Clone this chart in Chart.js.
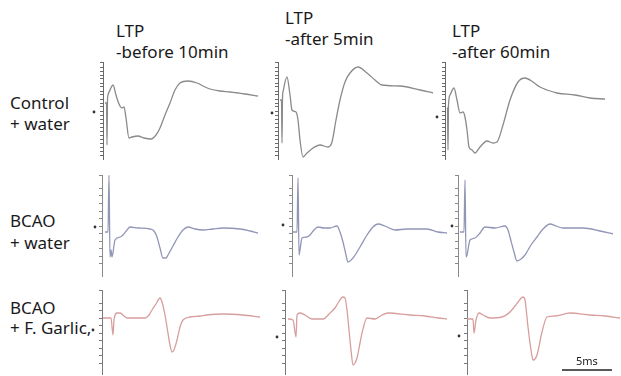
<!DOCTYPE html>
<html>
<head>
<meta charset="utf-8">
<script src="https://cdn.jsdelivr.net/npm/chart.js@4/dist/chart.umd.min.js"></script>
<style>
  html, body { margin: 0; padding: 0; background: #ffffff; }
  body { width: 621px; height: 376px; position: relative; overflow: hidden; font-family: "Noto Sans", "Open Sans", sans-serif; color: #1a1a1a; }
  .lbl { position: absolute; font-size: 17px; line-height: 21px; white-space: nowrap; }
  .sb { position: absolute; font-size: 11px; line-height: 13px; white-space: nowrap; }
  canvas { position: absolute; }
</style>
</head>
<body>
<script>
// ---------- DATA (time in ms, amplitude in mV) ----------
const columnTitles = ["-before 10min", "-after 5min", "-after 60min"];
const rowTitles = [["Control", "+ water"], ["BCAO", "+ water"], ["BCAO", "+ F. Garlic,"]];

// Control + water
const ctrlBeforeT = [0.2,0.35,0.4,0.45,0.5,0.7,1.0,1.3,1.6,1.9,2.1,2.3,2.6,2.9,3.5,4.1,4.8,5.3,5.7,6.2,6.7,7.2,7.7,8.5,9.4,10.2,10.7,11.7,12.7,14.2,15.5];
const ctrlBeforeV = [0.16,0.16,-0.68,0.22,0.32,0.42,0.52,0.32,0.14,0.06,0.08,-0.14,-0.54,-0.52,-0.50,-0.54,-0.56,-0.48,-0.34,-0.08,0.16,0.42,0.56,0.60,0.56,0.48,0.44,0.40,0.38,0.34,0.30];
const ctrlAfter5T = [0.2,0.35,0.4,0.45,0.5,0.9,1.2,1.4,1.8,2.0,2.2,2.5,2.9,3.5,4.2,5.0,5.4,5.8,6.2,6.7,7.2,8.0,8.9,9.7,10.4,12.2,14.2,15.5];
const ctrlAfter5V = [0.22,0.22,-0.64,0.26,0.38,0.68,0.32,0.02,-0.02,-0.18,-0.58,-0.92,-0.84,-0.74,-0.68,-0.72,-0.62,-0.18,0.22,0.58,0.76,0.88,0.76,0.62,0.52,0.50,0.42,0.36];
const ctrlAfter60T = [0.2,0.25,0.3,0.35,0.5,0.9,1.2,1.5,1.8,2.0,2.2,2.4,2.7,3.0,3.5,4.2,4.8,5.2,5.8,6.5,7.3,8.0,8.8,9.5,10.2,11.2,13.0,14.5,16.0];
const ctrlAfter60V = [0.06,0.06,-0.78,0.12,0.32,0.46,0.22,-0.04,-0.02,-0.12,-0.38,-0.72,-0.78,-0.84,-0.72,-0.60,-0.64,-0.62,-0.28,0.22,0.58,0.66,0.58,0.48,0.42,0.36,0.32,0.26,0.24];

// BCAO + water
const bcaoBeforeT = [0.3,0.6,0.7,0.8,0.9,1.0,1.3,1.8,2.1,2.5,2.8,3.6,4.8,5.2,5.5,5.8,6.1,6.4,6.6,7.1,7.6,8.1,8.6,9.3,10.1,11.1,12.1,13.8,14.8,15.6];
const bcaoBeforeV = [-0.12,-0.12,1.02,-0.62,-0.48,-0.62,-0.28,-0.22,-0.18,-0.08,-0.02,-0.04,-0.06,-0.10,-0.22,-0.44,-0.64,-0.64,-0.58,-0.40,-0.22,-0.08,-0.02,-0.06,-0.08,-0.06,-0.04,-0.06,-0.10,-0.14];
const bcaoAfter5T = [0.1,0.5,0.6,0.7,0.8,1.0,1.5,1.8,2.2,2.6,3.2,3.8,4.5,4.8,5.1,5.4,5.6,6.1,6.8,7.5,8.1,8.6,9.3,10.3,11.5,13.5,14.6,15.5];
const bcaoAfter5V = [-0.12,-0.12,0.96,-0.58,-0.48,-0.24,-0.22,-0.18,-0.08,-0.02,-0.04,-0.04,0.0,-0.12,-0.32,-0.58,-0.72,-0.64,-0.42,-0.18,-0.02,0.04,0.0,-0.08,-0.06,-0.06,-0.12,-0.14];
const bcaoAfter60T = [0.2,0.6,0.7,0.8,0.9,1.2,1.7,2.2,2.7,3.7,4.7,5.0,5.2,5.6,5.9,6.3,6.7,7.3,7.9,8.5,9.2,9.8,10.5,12.5,14.2,15.5];
const bcaoAfter60V = [-0.12,-0.12,0.92,-0.62,-0.58,-0.28,-0.24,-0.14,-0.02,-0.04,0.0,-0.08,-0.22,-0.52,-0.70,-0.66,-0.58,-0.38,-0.22,-0.06,0.04,0.0,-0.04,-0.04,-0.10,-0.16];

// BCAO + F. Garlic
const garlicBeforeT = [0.1,0.9,1.1,1.2,1.5,1.8,2.2,2.5,3.3,4.3,4.7,5.0,5.4,5.8,6.0,6.3,6.5,6.8,7.0,7.2,7.5,7.8,8.1,8.8,9.8,10.5,12.1,14.1,15.8];
const garlicBeforeV = [0,0,-0.34,-0.04,0.10,0.10,0.04,0,0,0,0.06,0.16,0.28,0.40,0.32,0.06,-0.18,-0.54,-0.68,-0.64,-0.44,-0.18,-0.04,0.02,0.04,0.06,0.08,0.06,0.02];
const garlicAfter5T = [0.3,0.8,1.1,1.2,1.5,2.0,2.7,3.8,4.5,5.0,5.3,5.8,6.0,6.2,6.4,6.6,6.8,7.0,7.2,7.5,7.7,8.2,9.0,9.7,10.3,12.5,14.0,15.3,16.2];
const garlicAfter5V = [-0.02,-0.04,-0.38,0.06,0.10,0.06,-0.02,-0.02,0.10,0.20,0.30,0.42,0.40,0.16,-0.24,-0.64,-0.94,-0.90,-0.80,-0.50,-0.30,0,-0.02,0.06,0.10,0.06,0.04,0,-0.02];
const garlicAfter60T = [0.0,0.6,0.7,0.9,1.2,1.6,2.3,3.5,4.3,4.8,5.1,5.6,5.8,6.1,6.4,6.6,6.8,7.0,7.5,8.0,8.8,10.3,12.3,13.8,15.3];
const garlicAfter60V = [-0.02,-0.02,-0.30,-0.04,0.10,0.06,0,0.02,0.12,0.24,0.32,0.42,0.36,-0.18,-0.64,-0.84,-0.82,-0.74,-0.28,0.02,0.04,0.10,0.06,0.04,0];

// baseline reference markers left of each axis [time, amplitude], row by row
const markerT = [[-0.9, -0.6, -0.8], [-0.7, -0.9, -0.6], [-0.9, -0.8, -0.8]];
const markerV = [[-0.02, -0.04, -0.12], [-0.02, 0.02, 0.0], [-0.24, -0.38, -0.36]];

// 5 ms scale bar
const scaleBarT = [9.5, 14.5];
const scaleBarV = [-1.04, -1.04];
const scaleBarLabel = "5ms";

// ---------- LAYOUT ----------
const PX_PER_MS = 10, PX_PER_MV = 50, TICK = 3, X_SPAN_MS = 17, PAD_L = 12;
const rows = [
  { top: 62, zero: 111, bottom: 160, color: '#8a8a8a', axis: '#6a6a6a', step: 0.08, panels: [
      { ax: 103, t: ctrlBeforeT, v: ctrlBeforeV },
      { ax: 278, t: ctrlAfter5T, v: ctrlAfter5V },
      { ax: 445, t: ctrlAfter60T, v: ctrlAfter60V } ] },
  { top: 175, zero: 226, bottom: 277, color: '#9195b6', axis: '#8a8a8a', step: 0.15, panels: [
      { ax: 102, t: bcaoBeforeT, v: bcaoBeforeV },
      { ax: 292, t: bcaoAfter5T, v: bcaoAfter5V },
      { ax: 458, t: bcaoAfter60T, v: bcaoAfter60V } ] },
  { top: 290, zero: 318, bottom: 375, color: '#d89e9e', axis: '#7a7a7a', step: 0.15, panels: [
      { ax: 102, t: garlicBeforeT, v: garlicBeforeV },
      { ax: 285, t: garlicAfter5T, v: garlicAfter5V },
      { ax: 467, t: garlicAfter60T, v: garlicAfter60V, bar: true } ] }
];

function addText(txt, left, top, cls) {
  const d = document.createElement('div');
  d.className = cls; d.textContent = txt;
  d.style.left = left + 'px'; d.style.top = top + 'px';
  document.body.appendChild(d);
  return d;
}

// marker plugin: draws the small baseline dot through the chart's scales
const markerPlugin = {
  id: 'baselineMarker',
  afterDatasetsDraw(chart, args, opts) {
    const xs = chart.scales.x, ys = chart.scales.y, ctx = chart.ctx;
    ctx.save();
    ctx.fillStyle = '#333333';
    ctx.beginPath();
    ctx.arc(xs.getPixelForValue(opts.t), ys.getPixelForValue(opts.v), 1.4, 0, Math.PI * 2);
    ctx.fill();
    ctx.restore();
  }
};

// column titles
const titlePos = [{x: 116, y: 20}, {x: 285, y: 7}, {x: 452, y: 20}];
columnTitles.forEach((t, i) => {
  addText('LTP', titlePos[i].x, titlePos[i].y, 'lbl');
  addText(t, titlePos[i].x, titlePos[i].y + 21, 'lbl');
});
// row titles
const rowLabelTops = [[92, 113], [210, 232], [297, 317]];
rowTitles.forEach((r, i) => {
  addText(r[0], 10, rowLabelTops[i][0], 'lbl');
  addText(r[1], 10, rowLabelTops[i][1], 'lbl');
});

rows.forEach((row, ri) => {
  const yMax = (row.zero - row.top) / PX_PER_MV;
  const yMin = (row.zero - row.bottom) / PX_PER_MV;
  row.panels.forEach((p, ci) => {
    const c = document.createElement('canvas');
    const w = PAD_L + TICK + X_SPAN_MS * PX_PER_MS;
    const h = row.bottom - row.top;
    c.width = w; c.height = h;
    c.style.width = w + 'px'; c.style.height = h + 'px';
    c.style.left = (p.ax - TICK - PAD_L) + 'px';
    c.style.top = row.top + 'px';
    document.body.appendChild(c);
    const datasets = [{
      data: p.t.map((x, i) => ({ x: x, y: p.v[i] })),
      borderColor: row.color, borderWidth: 1.3, pointRadius: 0,
      cubicInterpolationMode: 'monotone', clip: false
    }];
    if (p.bar) {
      datasets.push({
        data: scaleBarT.map((x, i) => ({ x: x, y: scaleBarV[i] })),
        borderColor: '#222222', borderWidth: 1.5, pointRadius: 0, clip: false
      });
    }
    new Chart(c, {
      type: 'line',
      data: { datasets },
      plugins: [markerPlugin],
      options: {
        responsive: false, animation: false, devicePixelRatio: 1,
        layout: { autoPadding: false, padding: { left: PAD_L, right: 0, top: 0, bottom: 0 } },
        plugins: { legend: { display: false }, tooltip: { enabled: false },
                   baselineMarker: { t: markerT[ri][ci], v: markerV[ri][ci] } },
        scales: {
          x: { type: 'linear', display: false, min: 0, max: X_SPAN_MS },
          y: { min: yMin, max: yMax,
               ticks: { display: false, stepSize: row.step },
               grid: { drawOnChartArea: false, tickLength: TICK, color: row.axis, lineWidth: 1 },
               border: { display: true, color: row.axis, width: 1 } }
        }
      }
    });
    if (p.bar) {
      addText(scaleBarLabel, p.ax + 11 * PX_PER_MS - 1, 354, 'sb');
    }
  });
});
</script>
</body>
</html>
